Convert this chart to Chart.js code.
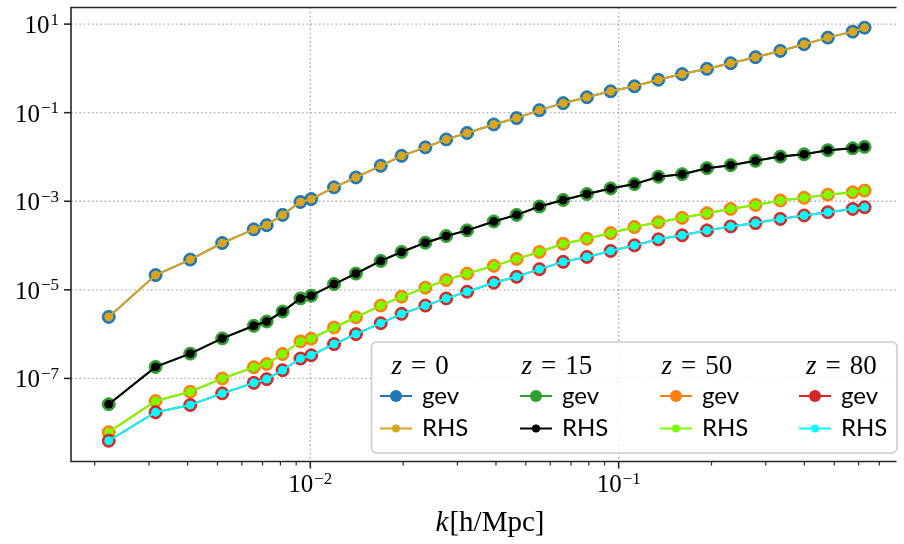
<!DOCTYPE html>
<html>
<head>
<meta charset="utf-8">
<script src="https://cdn.jsdelivr.net/npm/chart.js@4.4.0/dist/chart.umd.min.js"></script>
<style>
body { margin: 0; background: #fff; }
canvas { display: block; }
</style>
</head>
<body>
<canvas id="spectrum" width="904" height="544"></canvas>
<script>
// wavenumbers k [h/Mpc]
const kValues = [0.00222, 0.00315, 0.00408, 0.00518, 0.00656, 0.00722, 0.00813, 0.00929, 0.01007,
    0.01194, 0.01406, 0.01692, 0.01977, 0.02361, 0.02759, 0.03224, 0.03936, 0.04667, 0.05534,
    0.06607, 0.07889, 0.09419, 0.1125, 0.1345, 0.1606, 0.1933, 0.2308, 0.2778, 0.3344, 0.3993,
    0.4767, 0.5738, 0.6271];

const gevZ0 = [2.45e-6, 2.15e-5, 4.82e-5, 1.14e-4, 2.32e-4, 2.89e-4, 4.92e-4, 9.64e-4, 1.12e-3,
    2.06e-3, 3.45e-3, 6.32e-3, 1.06e-2, 1.65e-2, 2.49e-2, 3.48e-2, 5.42e-2, 7.55e-2, 0.114,
    0.164, 0.223, 0.304, 0.394, 0.554, 0.743, 0.977, 1.31, 1.79, 2.48, 3.51, 4.95, 6.75, 8.30];

const gevZ15 = [2.61e-8, 1.82e-7, 3.63e-7, 8.0e-7, 1.54e-6, 1.93e-6, 3.23e-6, 6.41e-6, 7.38e-6,
    1.35e-5, 2.33e-5, 4.50e-5, 7.16e-5, 1.16e-4, 1.64e-4, 2.20e-4, 3.50e-4, 4.92e-4, 7.60e-4,
    1.07e-3, 1.46e-3, 1.95e-3, 2.44e-3, 3.58e-3, 4.09e-3, 5.58e-3, 6.52e-3, 8.18e-3, 1.02e-2,
    1.15e-2, 1.42e-2, 1.57e-2, 1.69e-2];

const gevZ50 = [6.12e-9, 3.09e-8, 4.99e-8, 9.98e-8, 1.79e-7, 2.12e-7, 3.56e-7, 6.85e-7, 7.88e-7,
    1.41e-6, 2.40e-6, 4.41e-6, 7.01e-6, 1.12e-5, 1.66e-5, 2.33e-5, 3.48e-5, 4.99e-5, 7.16e-5,
    1.10e-4, 1.43e-4, 1.91e-4, 2.61e-4, 3.37e-4, 4.22e-4, 5.37e-4, 6.71e-4, 8.26e-4, 1.04e-3,
    1.20e-3, 1.41e-3, 1.59e-3, 1.74e-3];

const gevZ80 = [3.91e-9, 1.72e-8, 2.51e-8, 4.60e-8, 7.94e-8, 9.62e-8, 1.53e-7, 2.81e-7, 3.33e-7,
    5.96e-7, 1.00e-6, 1.77e-6, 2.87e-6, 4.41e-6, 6.41e-6, 9.08e-6, 1.45e-5, 1.97e-5, 2.93e-5,
    4.28e-5, 5.53e-5, 7.55e-5, 1.01e-4, 1.38e-4, 1.70e-4, 2.20e-4, 2.70e-4, 3.21e-4, 4.00e-4,
    4.77e-4, 5.66e-4, 6.71e-4, 7.33e-4];

// the RHS curves sit right on top of the gev points
const rhsZ0 = gevZ0;
const rhsZ15 = gevZ15;
const rhsZ50 = gevZ50;
const rhsZ80 = gevZ80;

const redshifts = ['0', '15', '50', '80'];
const xTickExps = [-3, -2, -1];
const xMinorMults = [2, 3, 4, 5, 6, 7, 8, 9];
const yTickExps = [1, -1, -3, -5, -7];

const serif = '"Liberation Serif", "DejaVu Serif", serif';
const sans = 'Lato, "DejaVu Sans", sans-serif';

const groups = [
    { gev: gevZ0, rhs: rhsZ0, gevColor: '#1f77b4', rhsColor: '#daa520' },
    { gev: gevZ15, rhs: rhsZ15, gevColor: '#2ca02c', rhsColor: '#000000' },
    { gev: gevZ50, rhs: rhsZ50, gevColor: '#ff7f0e', rhsColor: '#7cfc00' },
    { gev: gevZ80, rhs: rhsZ80, gevColor: '#d62728', rhsColor: '#00ffff' }
];

function points(values)
{
    return kValues.map((k, i) => ({ x: k, y: values[i] }));
}

const datasets = [];
groups.forEach((g, i) => {
    datasets.push({
        label: 'gev z=' + redshifts[i],
        data: points(g.gev),
        borderColor: g.gevColor,
        backgroundColor: g.gevColor,
        pointBackgroundColor: g.gevColor,
        pointBorderColor: g.gevColor,
        borderWidth: 2,
        pointRadius: 6.5,
        pointBorderWidth: 1,
        order: 8 - 2 * i
    });
    datasets.push({
        label: 'RHS z=' + redshifts[i],
        data: points(g.rhs),
        borderColor: g.rhsColor,
        backgroundColor: g.rhsColor,
        pointBackgroundColor: g.rhsColor,
        pointBorderColor: g.rhsColor,
        borderWidth: 2,
        pointRadius: 4,
        pointBorderWidth: 1,
        order: 7 - 2 * i
    });
});

function drawPower(ctx, exp, x, y, align)
{
    const base = '10';
    const sup = (exp < 0 ? '\u2212' : '') + Math.abs(exp);
    ctx.font = '25px ' + serif;
    const wb = ctx.measureText(base).width;
    ctx.font = '17px ' + serif;
    const ws = ctx.measureText(sup).width;
    const total = wb + 1 + ws;
    const left = align === 'right' ? x - total : x - total / 2;
    ctx.textAlign = 'left';
    ctx.textBaseline = 'alphabetic';
    ctx.fillStyle = '#000';
    ctx.font = '25px ' + serif;
    ctx.fillText(base, left, y + 9);
    ctx.font = '17px ' + serif;
    ctx.fillText(sup, left + wb + 1, y + 0.5);
}

function drawHandle(ctx, x, y, color, r)
{
    ctx.strokeStyle = color;
    ctx.lineWidth = 2;
    ctx.setLineDash([]);
    ctx.beginPath();
    ctx.moveTo(x, y);
    ctx.lineTo(x + 32, y);
    ctx.stroke();
    ctx.fillStyle = color;
    ctx.beginPath();
    ctx.arc(x + 16, y, r, 0, Math.PI * 2);
    ctx.fill();
}

function drawLegend(ctx)
{
    ctx.save();
    ctx.beginPath();
    ctx.roundRect(371.5, 342, 525.5, 111, 5);
    ctx.fillStyle = 'rgba(255,255,255,0.8)';
    ctx.fill();
    ctx.strokeStyle = '#cccccc';
    ctx.lineWidth = 1.6;
    ctx.stroke();

    const cols = [380, 520, 660, 799];
    const heads = [391.5, 521.5, 661.5, 806];
    groups.forEach((g, i) => {
        // header: z = n
        let hx = heads[i];
        ctx.fillStyle = '#000';
        ctx.textAlign = 'left';
        ctx.textBaseline = 'alphabetic';
        ctx.font = 'italic 27px ' + serif;
        ctx.fillText('z', hx, 374);
        hx += ctx.measureText('z').width + 9;
        ctx.font = '27px ' + serif;
        ctx.fillText('=', hx, 374);
        hx += ctx.measureText('=').width + 9;
        ctx.fillText(redshifts[i], hx, 374);

        drawHandle(ctx, cols[i], 396, g.gevColor, 6);
        drawHandle(ctx, cols[i], 428.5, g.rhsColor, 4);
        ctx.fillStyle = '#000';
        ctx.font = '24px ' + sans;
        ctx.textBaseline = 'middle';
        ctx.fillText('gev', cols[i] + 42, 396);
        ctx.fillText('RHS', cols[i] + 42, 428.5);
    });
    ctx.restore();
}

const axesPlugin = {
    id: 'axesPlugin',
    beforeDatasetsDraw(chart)
    {
        const { ctx, chartArea: a, scales: { x, y } } = chart;
        ctx.save();
        ctx.strokeStyle = '#b0b0b0';
        ctx.lineWidth = 1.4;
        ctx.setLineDash([1.6, 2.6]);
        xTickExps.forEach(e => {
            const v = Math.pow(10, e);
            if (v < x.min || v > x.max) return;
            const px = x.getPixelForValue(v);
            ctx.beginPath();
            ctx.moveTo(px, a.top);
            ctx.lineTo(px, a.bottom);
            ctx.stroke();
        });
        yTickExps.forEach(e => {
            const py = y.getPixelForValue(Math.pow(10, e));
            ctx.beginPath();
            ctx.moveTo(a.left, py);
            ctx.lineTo(a.right, py);
            ctx.stroke();
        });
        ctx.restore();
    },
    afterDraw(chart)
    {
        const { ctx, chartArea: a, scales: { x, y } } = chart;
        ctx.save();
        ctx.setLineDash([]);
        ctx.strokeStyle = '#262626';

        // ticks
        ctx.lineWidth = 1.6;
        yTickExps.forEach(e => {
            const py = y.getPixelForValue(Math.pow(10, e));
            ctx.beginPath();
            ctx.moveTo(a.left, py);
            ctx.lineTo(a.left - 7, py);
            ctx.stroke();
            drawPower(ctx, e, 59, py, 'right');
        });
        xTickExps.forEach(e => {
            const base = Math.pow(10, e);
            if (base >= x.min && base <= x.max) {
                const px = x.getPixelForValue(base);
                ctx.lineWidth = 1.6;
                ctx.beginPath();
                ctx.moveTo(px, a.bottom);
                ctx.lineTo(px, a.bottom + 7);
                ctx.stroke();
                drawPower(ctx, e, px, 483, 'center');
            }
            xMinorMults.forEach(m => {
                const v = m * base;
                if (v < x.min || v > x.max) return;
                const px = x.getPixelForValue(v);
                ctx.lineWidth = 1.2;
                ctx.beginPath();
                ctx.moveTo(px, a.bottom);
                ctx.lineTo(px, a.bottom + 4);
                ctx.stroke();
            });
        });

        // spines
        ctx.lineWidth = 1.6;
        ctx.beginPath();
        ctx.moveTo(a.right, a.top);
        ctx.lineTo(a.left, a.top);
        ctx.lineTo(a.left, a.bottom);
        ctx.lineTo(a.right, a.bottom);
        ctx.stroke();

        // x axis title
        ctx.fillStyle = '#000';
        ctx.textBaseline = 'alphabetic';
        ctx.textAlign = 'left';
        ctx.font = 'italic 29px ' + serif;
        const wk = ctx.measureText('k').width;
        ctx.font = '29px ' + serif;
        const wr = ctx.measureText('[h/Mpc]').width;
        const left = 490 - (wk + 1 + wr) / 2;
        ctx.font = 'italic 29px ' + serif;
        ctx.fillText('k', left, 531);
        ctx.font = '29px ' + serif;
        ctx.fillText('[h/Mpc]', left + wk + 1, 531);

        drawLegend(ctx);
        ctx.restore();
    }
};

new Chart(document.getElementById('spectrum').getContext('2d'),
{
    type: 'line',
    data: { datasets: datasets },
    options: {
        responsive: false,
        animation: false,
        devicePixelRatio: 1,
        layout: { padding: { left: 71, top: 4, right: 0, bottom: 82.5 } },
        plugins: {
            legend: { display: false },
            tooltip: { enabled: false }
        },
        scales: {
            x: { type: 'logarithmic', display: false, min: 0.001675, max: 0.7959 },
            y: { type: 'logarithmic', display: false, min: 1.33e-9, max: 23.7 }
        }
    },
    plugins: [axesPlugin]
});
</script>
</body>
</html>
